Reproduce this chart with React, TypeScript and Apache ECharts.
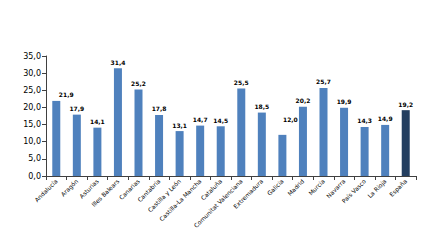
import React, { useEffect, useRef } from "react";
import * as echarts from "echarts";

const categories = [
  "Andalucía", "Aragón", "Asturias", "Illes Balears", "Canarias", "Cantabria",
  "Castilla y León", "Castilla-La Mancha", "Cataluña", "Comunitat Valenciana",
  "Extremadura", "Galicia", "Madrid", "Murcia", "Navarra", "País Vasco",
  "La Rioja", "España",
];
const values = [21.9, 17.9, 14.1, 31.4, 25.2, 17.8, 13.1, 14.7, 14.5, 25.5, 18.5, 12.0, 20.2, 25.7, 19.9, 14.3, 14.9, 19.2];
const highlight = ["España"];
const labelShift: Record<string, number[]> = { "Andalucía": [10, 0], "Galicia": [8, -9] };

const fmt = (v: number) => v.toFixed(1).replace(".", ",");

export default function App() {
  const ref = useRef<HTMLDivElement>(null);
  useEffect(() => {
    const chart = echarts.init(ref.current!, null, { renderer: "svg" });
    chart.setOption({
      animation: false,
      grid: { left: 46, right: 9, top: 56, bottom: 74 },
      xAxis: {
        type: "category",
        data: categories,
        axisLine: { lineStyle: { color: "#404040", width: 1 } },
        axisTick: { show: true, alignWithLabel: false, length: 4, lineStyle: { color: "#404040" } },
        axisLabel: {
          interval: 0,
          rotate: 45,
          fontSize: 6,
          fontFamily: "DejaVu Sans",
          color: "#000",
          margin: 4,
        },
      },
      yAxis: {
        type: "value",
        min: 0,
        max: 35,
        interval: 5,
        splitLine: { show: false },
        axisLine: { show: true, lineStyle: { color: "#404040", width: 1 } },
        axisTick: { show: true, length: 4, lineStyle: { color: "#404040" } },
        axisLabel: {
          fontSize: 8,
          fontFamily: "DejaVu Sans",
          color: "#000",
          margin: 5,
          formatter: (v: number) => fmt(v),
        },
      },
      series: [
        {
          type: "bar",
          barWidth: 8,
          data: values.map((v, i) => ({
            value: v,
            itemStyle: { color: highlight.includes(categories[i]) ? "#243F60" : "#4F81BD" },
            label: labelShift[categories[i]] ? { offset: labelShift[categories[i]] } : undefined,
          })),
          label: {
            show: true,
            position: "top",
            distance: 3,
            fontSize: 6,
            fontWeight: "bold",
            fontFamily: "DejaVu Sans",
            color: "#000",
            formatter: (p: any) => fmt(p.value),
          },
        },
      ],
    });
    return () => chart.dispose();
  }, []);
  return <div ref={ref} style={{ width: 425, height: 250, position: "absolute", left: 0, top: 0 }} />;
}
